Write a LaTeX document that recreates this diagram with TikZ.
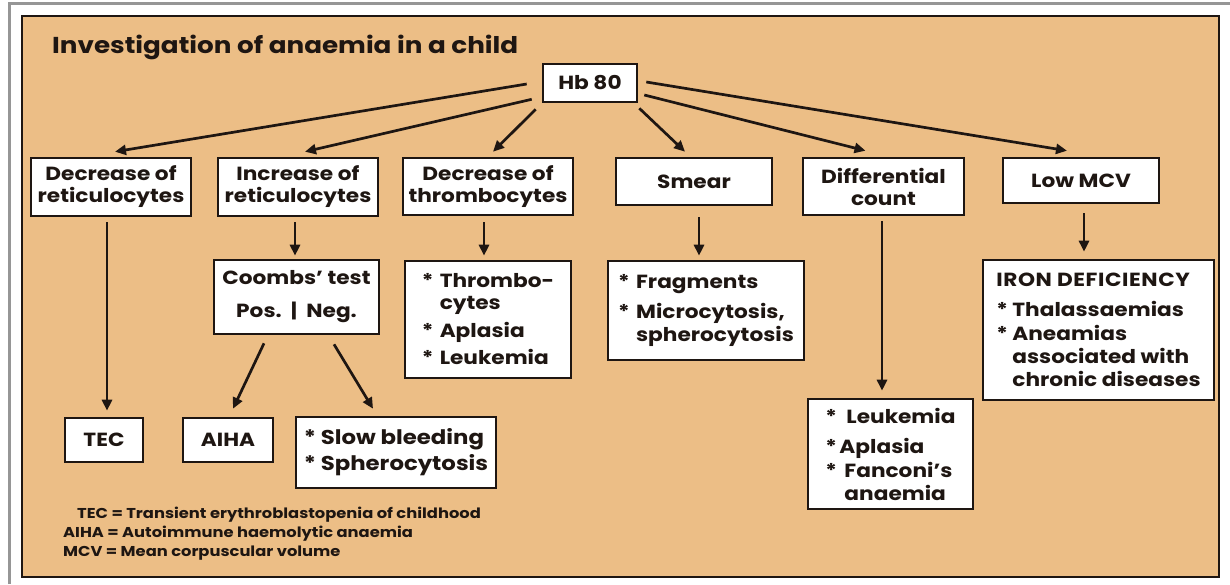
\documentclass[tikz,border=0pt]{standalone}
\usepackage{fontspec}
\setmainfont{Poppins}[FakeStretch=1.14]
\usetikzlibrary{arrows.meta,calc}
\definecolor{panel}{RGB}{236,190,134}
\definecolor{ink}{RGB}{30,22,18}
\definecolor{framegray}{RGB}{150,150,150}
\newcommand{\bul}{\makebox[18pt][l]{*}}
\newcommand{\ind}{\hspace*{18pt}}
\begin{document}
\begin{tikzpicture}[x=1pt,y=-1pt,
  box/.style={draw=ink,line width=2.6pt,fill=white,inner sep=0pt,align=center,
    font=\bfseries\fontsize{19}{22}\selectfont,text=ink},
  listbox/.style={box,align=left},
  arr/.style={draw=ink,line width=2.7pt,-{Triangle[length=11pt,width=10pt]}},
  legend/.style={font=\bfseries\fontsize{14.3}{16}\selectfont,text=ink,inner sep=0pt,anchor=base west},
]
\useasboundingbox (0,0) rectangle (1230,584);
\fill[white] (0,0) rectangle (1230,584);
\draw[framegray,line width=3pt] (9.5,584) -- (9.5,3.5) -- (1230,3.5);
\draw[ink,line width=2.5pt,fill=panel] (22,16) rectangle (1219,577);

\node[font=\bfseries\fontsize{23}{26}\selectfont,text=ink,inner sep=0pt,anchor=base west] (title) at (52,53) {Investigation of anaemia in a child};

% top
\node[box,minimum width=94pt,minimum height=38pt] (hb) at (590,83) {Hb 80};

% row 1
\node[box,minimum width=160pt,minimum height=58pt] (dr) at (111,187) {Decrease of\\reticulocytes};
\node[box,minimum width=160pt,minimum height=58pt] (ir) at (298,187) {Increase of\\reticulocytes};
\node[box,minimum width=170pt,minimum height=57pt] (dt) at (488,186.5) {Decrease of\\thrombocytes};
\node[box,minimum width=156pt,minimum height=47pt] (sm) at (694,181.5) {Smear};
\node[box,minimum width=161pt,minimum height=57pt] (dc) at (883.5,186.5) {Differential\\count};
\node[box,minimum width=156pt,minimum height=45pt] (mcv) at (1081,180.5) {Low MCV};

% row 2
\node[box,minimum width=165pt,minimum height=74pt] (coombs) at (296.5,297) {Coombs' test\\[11pt]Pos.\ \ |\ \ Neg.};
\node[listbox,minimum width=166pt,minimum height=117pt] (thr) at (488,319.5) {\bul Thrombo-\\\ind cytes\\[6pt]\bul Aplasia\\[5pt]\bul Leukemia};
\node[listbox,minimum width=196pt,minimum height=99pt] (frag) at (706,310.5) {\bul Fragments\\[8pt]\bul Microcytosis,\\[1pt]\ind spherocytosis};
\node[listbox,minimum width=231pt,minimum height=140pt] (iron) at (1098.5,330) {{\addfontfeature{LetterSpace=3}IRON DEFICIENCY}\\[8pt]\makebox[16pt][l]{*}Thalassaemias\\[2pt]\makebox[16pt][l]{*}Aneamias\\[1pt]\hspace*{16pt}associated with\\[1pt]\hspace*{16pt}chronic diseases};

% row 3
\node[box,minimum width=78pt,minimum height=44pt] (tec) at (104,440) {TEC};
\node[box,minimum width=90pt,minimum height=44pt] (aiha) at (228,440) {AIHA};
\node[listbox,minimum width=200pt,minimum height=71pt,font=\bfseries\fontsize{20}{22}\selectfont] (slow) at (396,452.5) {* Slow bleeding\\[4pt]* Spherocytosis};
\node[listbox,minimum width=165pt,minimum height=110pt] (leuk) at (890.5,454) {\makebox[21pt][l]{*}Leukemia\\[8pt]\makebox[14pt][l]{*}Aplasia\\[2pt]\makebox[19pt][l]{*}Fanconi's\\[1pt]\hspace*{19pt}anaemia};

% legend
\node[legend] (l1) at (77,518) {TEC = Transient erythroblastopenia of childhood};
\node[legend] (l2) at (63,537) {AIHA = Autoimmune haemolytic anaemia};
\node[legend] (l3) at (63,556) {MCV = Mean corpuscular volume};

% connectors from Hb 80
\draw[arr] ($(hb.west)+(-15,1)$) -- ($(dr.north)+(4,-5)$);
\draw[arr] ($(hb.south west)+(-10,-4)$) -- ($(ir.north)+(7,-5)$);
\draw[arr] ($(hb.south west)+(-6,6)$) -- ($(dt.north)+(5,-5)$);
\draw[arr] ($(hb.south east)+(1,5)$) -- ($(sm.north)+(-9,-5)$);
\draw[arr] ($(hb.east)+(6,12)$) -- ($(dc.north)+(-18,-6)$);
\draw[arr] ($(hb.east)+(8,-1)$) -- ($(mcv.north)+(-14,-6)$);

% lower connectors
\draw[arr] ($(dr.south)+(-4,5)$) -- ($(tec.north)+(3,-6)$);
\draw[arr] ($(ir.south)+(-3,5)$) -- ($(coombs.north)+(-1.5,-3)$);
\draw[arr] ($(coombs.south)+(-32.5,8)$) -- ($(aiha.north)+(5,-8)$);
\draw[arr] ($(coombs.south)+(37.5,9)$) -- ($(slow.north)+(-23,-7)$);
\draw[arr] ($(dt.south)+(-4,6)$) -- ($(thr.north)+(-4,-4)$);
\draw[arr] ($(sm.south)+(5,11)$) -- ($(frag.north)+(-7,-4)$);
\draw[arr] ($(dc.south)+(-1.5,5)$) -- ($(leuk.north)+(-8.5,-7)$);
\draw[arr] ($(mcv.south)+(3,9)$) -- ($(iron.north)+(-14.5,-7)$);
\end{tikzpicture}
\end{document}
